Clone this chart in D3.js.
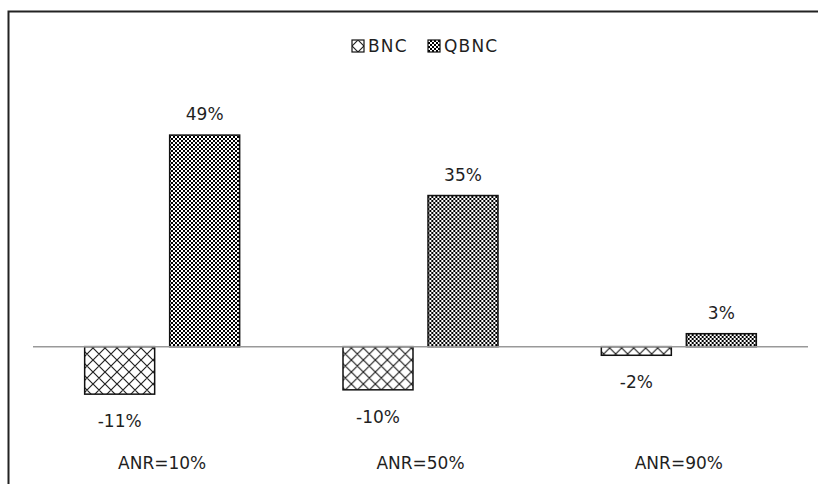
<!DOCTYPE html>
<html>
<head>
<meta charset="utf-8">
<script src="https://cdn.jsdelivr.net/npm/d3@7"></script>
<style>
  html, body { margin: 0; padding: 0; background: #fff; }
  svg { display: block; }
  text { font-family: "DejaVu Sans", Verdana, sans-serif; fill: #1f1f1f; }
</style>
</head>
<body>
<svg id="chart" width="818" height="484"></svg>
<script>
// Categories and series values (percent)
const categories = ["ANR=10%", "ANR=50%", "ANR=90%"];
const seriesNames = ["BNC", "QBNC"];
const bncValues = [-11, -10, -2];
const qbncValues = [49, 35, 3];

const W = 818, H = 484;
const plot = { left: 33, right: 808 };

const svg = d3.select("#chart");
const defs = svg.append("defs");

// Diagonal cross-hatch for BNC
const hatch = defs.append("pattern")
  .attr("id", "pat-bnc").attr("patternUnits", "userSpaceOnUse")
  .attr("width", 12).attr("height", 12);
hatch.append("rect").attr("width", 12).attr("height", 12).attr("fill", "#fff");
hatch.append("path").attr("d", "M0,0 L12,12 M12,0 L0,12 M-6,6 L6,18 M6,-6 L18,6 M-6,6 L6,-6 M6,18 L18,6")
  .attr("stroke", "#222").attr("stroke-width", 1.2).attr("fill", "none");

// Fine checkerboard for QBNC
const checker = defs.append("pattern")
  .attr("id", "pat-qbnc").attr("patternUnits", "userSpaceOnUse")
  .attr("width", 4).attr("height", 4);
checker.append("rect").attr("width", 4).attr("height", 4).attr("fill", "#fff");
checker.append("rect").attr("x", 0).attr("y", 0).attr("width", 2).attr("height", 2).attr("fill", "#000");
checker.append("rect").attr("x", 2).attr("y", 2).attr("width", 2).attr("height", 2).attr("fill", "#000");

const fills = { BNC: "url(#pat-bnc)", QBNC: "url(#pat-qbnc)" };

// Chart frame (top and left edges visible)
svg.append("path")
  .attr("d", `M8.5,${H + 2} L8.5,11.5 L${W + 2},11.5`)
  .attr("fill", "none").attr("stroke", "#222").attr("stroke-width", 2);

const x0 = d3.scaleBand().domain(categories).range([plot.left, plot.right]).padding(0);
const groupWidth = 155;
const x1 = d3.scaleBand().domain(seriesNames)
  .range([(x0.bandwidth() - groupWidth) / 2, (x0.bandwidth() + groupWidth) / 2])
  .paddingInner(15 / 85);

const y = d3.scaleLinear().domain([-20, 60]).range([433, 87.6]);

const rows = categories.map((c, i) => ({
  cat: c,
  vals: [{ s: "BNC", v: bncValues[i] }, { s: "QBNC", v: qbncValues[i] }]
}));

const groups = svg.selectAll("g.grp").data(rows).join("g")
  .attr("class", "grp")
  .attr("transform", d => `translate(${x0(d.cat)},0)`);

groups.selectAll("rect").data(d => d.vals).join("rect")
  .attr("x", d => x1(d.s))
  .attr("width", x1.bandwidth())
  .attr("y", d => y(Math.max(0, d.v)))
  .attr("height", d => Math.abs(y(d.v) - y(0)))
  .attr("fill", d => fills[d.s])
  .attr("stroke", "#111").attr("stroke-width", 1.5);

// Data labels
groups.selectAll("text.lbl").data(d => d.vals).join("text")
  .attr("class", "lbl")
  .attr("x", d => x1(d.s) + x1.bandwidth() / 2)
  .attr("y", d => d.v >= 0 ? y(d.v) - 21 : y(d.v) + 27)
  .attr("text-anchor", "middle").attr("dominant-baseline", "central")
  .attr("font-size", 17)
  .text(d => d.v + "%");

// Zero axis line
svg.append("line")
  .attr("x1", plot.left).attr("x2", plot.right)
  .attr("y1", y(0)).attr("y2", y(0))
  .attr("stroke", "#999").attr("stroke-width", 1.5);

// Category labels
svg.selectAll("text.cat").data(categories).join("text")
  .attr("class", "cat")
  .attr("x", d => x0(d) + x0.bandwidth() / 2)
  .attr("y", 463)
  .attr("text-anchor", "middle").attr("dominant-baseline", "central")
  .attr("font-size", 17)
  .text(d => d);

// Legend
const legend = svg.append("g").attr("transform", "translate(352,46)");
const legendX = [0, 76];
seriesNames.forEach((s, i) => {
  const g = legend.append("g").attr("transform", `translate(${legendX[i]},0)`);
  g.append("rect").attr("x", 0).attr("y", -6).attr("width", 12).attr("height", 12)
    .attr("fill", fills[s]).attr("stroke", "#111").attr("stroke-width", 1.2);
  g.append("text").attr("x", 16).attr("y", 0)
    .attr("dominant-baseline", "central").attr("font-size", 17)
    .attr("letter-spacing", 1.2)
    .text(s);
});
</script>
</body>
</html>
